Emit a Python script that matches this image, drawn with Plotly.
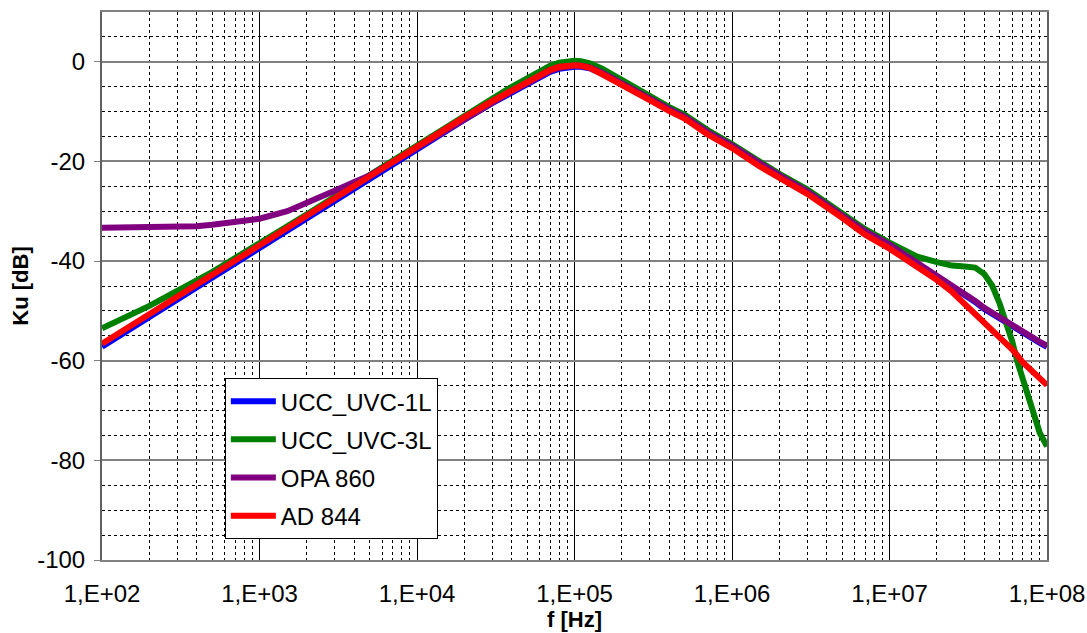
import plotly.graph_objects as go

# Frequency points [Hz]
freq = [1e2, 1.5e2, 2e2, 3e2, 4e2, 5e2, 7e2,
        1e3, 1.5e3, 2e3, 3e3, 4e3, 5e3, 7e3,
        1e4, 1.5e4, 2e4, 3e4, 4e4, 5e4, 6e4, 7e4, 8e4, 9e4,
        1e5, 1.1e5, 1.25e5, 1.5e5, 2e5, 3e5, 4e5, 5e5, 7e5,
        1e6, 1.5e6, 2e6, 3e6, 5e6, 7e6,
        1e7, 1.5e7, 2e7, 2.5e7, 3e7, 3.5e7, 4e7, 4.5e7, 5e7, 5.5e7, 6e7, 6.5e7, 7e7, 8e7, 9e7,
        1e8]

# Voltage gain Ku [dB] of each circuit
ucc_uvc_1l = [-57.2, -53.7, -51.2, -47.7, -45.2, -43.3, -40.4,
              -37.4, -33.9, -31.4, -27.8, -25.3, -23.4, -20.5,
              -17.5, -14.0, -11.6, -8.3, -6.1, -4.5, -3.0, -2.0, -1.4, -1.1,
              -1.0, -1.0, -1.3, -2.4, -4.6, -7.5, -9.7, -11.2, -14.3,
              -17.0, -20.7, -23.0, -26.2, -30.9, -34.2,
              -36.9, -40.5, -43.0, -45.0, -46.7, -48.2, -49.6, -50.6, -51.5, -52.4, -53.2, -53.9, -54.5, -55.6, -56.4,
              -57.2]

ucc_uvc_3l = [-53.5, -51.0, -49.0, -46.0, -43.9, -42.2, -39.4,
              -36.5, -33.1, -30.6, -27.1, -24.6, -22.7, -19.8,
              -16.8, -13.3, -10.8, -7.4, -5.0, -3.2, -1.8, -0.8, -0.2, 0.1,
              0.2, 0.1, -0.3, -1.4, -3.7, -6.9, -9.1, -10.6, -13.7,
              -16.5, -20.1, -22.5, -25.6, -30.3, -33.6,
              -36.3, -39.1, -40.2, -40.9, -41.1, -41.3, -42.6, -45.0, -48.5, -52.2, -56.0, -60.3, -63.5, -69.5, -74.5,
              -77.2]

opa_860 = [-33.3, -33.3, -33.3, -33.2, -33.0, -32.7, -32.2,
           -31.5, -30.0, -28.4, -25.9, -24.1, -22.8, -20.2,
           -17.3, -13.8, -11.4, -8.1, -5.9, -4.3, -2.8, -1.8, -1.2, -0.9,
           -0.8, -0.8, -1.1, -2.2, -4.4, -7.3, -9.5, -11.0, -14.1,
           -16.8, -20.5, -22.8, -26.0, -30.7, -34.0,
           -36.7, -40.3, -42.8, -44.8, -46.5, -48.0, -49.4, -50.4, -51.3, -52.2, -53.0, -53.7, -54.3, -55.4, -56.2,
           -57.0]

ad_844 = [-56.6, -53.1, -50.6, -47.1, -44.6, -42.7, -39.8,
          -36.8, -33.3, -30.8, -27.3, -24.8, -22.9, -20.0,
          -17.0, -13.5, -11.1, -7.9, -5.7, -4.0, -2.6, -1.6, -1.0, -0.8,
          -0.7, -0.8, -1.2, -2.5, -4.8, -7.7, -9.9, -11.4, -14.6,
          -17.3, -21.0, -23.3, -26.5, -31.3, -34.7,
          -37.5, -41.0, -43.8, -46.2, -48.6, -50.5, -52.2, -53.7, -55.0, -56.3, -57.7, -59.0, -60.3, -62.0, -63.5,
          -64.9]

series = [
    ("UCC_UVC-1L", ucc_uvc_1l, "#0000FF"),
    ("UCC_UVC-3L", ucc_uvc_3l, "#008000"),
    ("OPA 860", opa_860, "#800080"),
    ("AD 844", ad_844, "#FF0000"),
]

x_tickvals = [1e2, 1e3, 1e4, 1e5, 1e6, 1e7, 1e8]
x_ticktext = ["1,E+02", "1,E+03", "1,E+04", "1,E+05", "1,E+06", "1,E+07", "1,E+08"]
y_tickvals = [-100, -80, -60, -40, -20, 0]
y_ticktext = ["-100", "-80", "-60", "-40", "-20", "0"]

FONT = "Liberation Sans, Arial, sans-serif"

fig = go.Figure()
for name, vals, color in series:
    fig.add_trace(go.Scatter(
        x=freq, y=vals, name=name, mode="lines",
        legendgroup=name,
        line=dict(color=color, width=6),
    ))

fig.update_layout(
    width=1087, height=633,
    margin=dict(l=102, r=40, t=12, b=73),
    paper_bgcolor="white", plot_bgcolor="white",
    font=dict(family=FONT, color="black"),
    showlegend=True,
    legend=dict(
        x=0.130, y=0.3320, xanchor="left", yanchor="top",
        bgcolor="white", bordercolor="black", borderwidth=1,
        font=dict(size=24, family=FONT, color="black"),
        traceorder="grouped", tracegroupgap=4,
        itemwidth=45,
    ),
)

fig.update_xaxes(
    type="log", range=[2, 8], automargin=False,
    tickvals=x_tickvals, ticktext=x_ticktext,
    tickfont=dict(size=24, family=FONT),
    ticks="", ticklabelstandoff=11,
    showgrid=True, gridcolor="#000000", gridwidth=1,
    minor=dict(dtick="D1", showgrid=True, gridcolor="#000000",
               griddash="3px,3px", gridwidth=1, ticks=""),
    showline=True, linecolor="#808080", linewidth=2, mirror=True,
    title=dict(text="<b>f [Hz]</b>", font=dict(size=22, family=FONT), standoff=0),
)

fig.update_yaxes(
    range=[-100, 10], automargin=False,
    tickvals=y_tickvals, ticktext=y_ticktext,
    tickfont=dict(size=24, family=FONT),
    ticks="outside", ticklen=6, tickcolor="#808080", tickwidth=1,
    ticklabelstandoff=4,
    showgrid=True, gridcolor="#808080", gridwidth=2,
    zeroline=False,
    minor=dict(dtick=5, showgrid=True, gridcolor="#000000",
               griddash="3px,3px", gridwidth=1, ticks=""),
    showline=True, linecolor="#606060", linewidth=2, mirror=True,
    title=dict(text="<b>Ku [dB]</b>", font=dict(size=22, family=FONT), standoff=2),
)

fig.write_html("out.html")
